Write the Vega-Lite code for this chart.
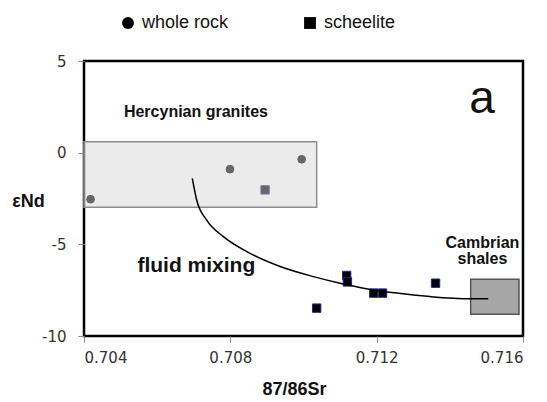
{
  "$schema": "https://vega.github.io/schema/vega-lite/v6.json",
  "width": 439,
  "height": 275,
  "autosize": "none",
  "padding": {"left": 84, "top": 61, "right": 24, "bottom": 66},
  "background": "white",
  "config": {
    "view": {"stroke": "black", "strokeWidth": 2.5},
    "font": "Liberation Sans"
  },
  "datasets": {
    "samples": [
      {"type": "whole rock", "sr": 0.70418, "nd": -2.54},
      {"type": "whole rock", "sr": 0.70799, "nd": -0.90},
      {"type": "whole rock", "sr": 0.70995, "nd": -0.36},
      {"type": "scheelite", "sr": 0.70895, "nd": -2.03},
      {"type": "scheelite", "sr": 0.71036, "nd": -8.48},
      {"type": "scheelite", "sr": 0.71118, "nd": -6.70},
      {"type": "scheelite", "sr": 0.71120, "nd": -7.05},
      {"type": "scheelite", "sr": 0.71192, "nd": -7.66},
      {"type": "scheelite", "sr": 0.71216, "nd": -7.66},
      {"type": "scheelite", "sr": 0.71361, "nd": -7.12}
    ],
    "curve": [
      {"sr": 0.70696, "nd": -1.40},
      {"sr": 0.70708, "nd": -2.58},
      {"sr": 0.70735, "nd": -3.67},
      {"sr": 0.70781, "nd": -4.58},
      {"sr": 0.70845, "nd": -5.40},
      {"sr": 0.70936, "nd": -6.21},
      {"sr": 0.71027, "nd": -6.76},
      {"sr": 0.71100, "nd": -7.12},
      {"sr": 0.71164, "nd": -7.39},
      {"sr": 0.71255, "nd": -7.66},
      {"sr": 0.71346, "nd": -7.85},
      {"sr": 0.71455, "nd": -7.97},
      {"sr": 0.71505, "nd": -7.97}
    ]
  },
  "layer": [
    {
      "mark": {"type": "rule", "color": "black", "strokeWidth": 2},
      "encoding": {"y": {"datum": 0, "type": "quantitative"}}
    },
    {
      "data": {"name": "samples"},
      "mark": {"type": "point", "filled": true, "opacity": 1, "strokeWidth": 1, "strokeOpacity": 1, "fill": "black", "color": "black"},
      "encoding": {
        "x": {
          "field": "sr", "type": "quantitative",
          "scale": {"domain": [0.704, 0.716], "nice": false, "zero": false},
          "axis": {
            "title": "87/86Sr",
            "values": [0.704, 0.708, 0.712, 0.716],
            "format": ".3f",
            "domain": false,
            "grid": false,
            "tickColor": "#888",
            "tickSize": 6,
            "labelFont": "DejaVu Sans",
            "labelFontSize": 15,
            "labelColor": "#333",
            "labelPadding": 8,
            "titleFont": "Liberation Sans",
            "titleFontSize": 18,
            "titleFontWeight": "bold",
            "titleColor": "#111",
            "titleX": 210,
            "titleY": 58,
            "titleBaseline": "alphabetic",
            "titleAlign": "center"
          }
        },
        "y": {
          "field": "nd", "type": "quantitative",
          "scale": {"domain": [-10, 5], "nice": false, "zero": false},
          "axis": {
            "title": "εNd",
            "values": [-10, -5, 0, 5],
            "labelExpr": "replace(datum.label, '\u2212', '-')",
            "domain": false,
            "grid": false,
            "tickColor": "#888",
            "tickSize": 6,
            "labelFont": "DejaVu Sans",
            "labelFontSize": 15,
            "labelColor": "#333",
            "labelPadding": 12,
            "titleFont": "Liberation Sans",
            "titleFontSize": 18,
            "titleFontWeight": "bold",
            "titleColor": "#111",
            "titleAngle": 0,
            "titleX": -56,
            "titleY": 140,
            "titleAlign": "center",
            "titleBaseline": "middle"
          }
        },
        "shape": {
          "field": "type", "type": "nominal",
          "scale": {"domain": ["whole rock", "scheelite"], "range": ["circle", "square"]},
          "legend": {
            "title": null,
            "orient": "none",
            "direction": "horizontal",
            "legendX": 35,
            "legendY": -47,
            "symbolSize": 140,
            "symbolFillColor": "black",
            "symbolStrokeColor": "black",
            "symbolStrokeWidth": 0,
            "labelFont": "Liberation Sans",
            "labelFontSize": 18,
            "labelColor": "#111",
            "labelOffset": 5,
            "columnPadding": 72,
            "encode": {
              "symbols": {
                "update": {
                  "size": {"signal": "datum.value === 'whole rock' ? 140 : 85"}
                }
              }
            }
          }
        },
        "size": {
          "condition": {"test": "datum.type === 'scheelite'", "value": 70},
          "value": 60
        },
        "stroke": {
          "condition": {"test": "datum.type === 'scheelite'", "value": "#23238f"},
          "value": "black"
        }
      }
    },
    {
      "data": {"values": [{"name": "Hercynian granites", "x1": 0.704, "x2": 0.71036, "y1": 0.6, "y2": -2.98}]},
      "mark": {"type": "rect", "fill": "#d5d5d5", "fillOpacity": 0.48, "stroke": "#8c8c8c", "strokeWidth": 1.5},
      "encoding": {
        "x": {"field": "x1", "type": "quantitative"},
        "x2": {"field": "x2"},
        "y": {"field": "y1", "type": "quantitative"},
        "y2": {"field": "y2"}
      }
    },
    {
      "data": {"values": [{"name": "Cambrian shales", "x1": 0.71457, "x2": 0.71589, "y1": -6.90, "y2": -8.81}]},
      "mark": {"type": "rect", "fill": "#a6a6a6", "stroke": "#555", "strokeWidth": 1.5},
      "encoding": {
        "x": {"field": "x1", "type": "quantitative"},
        "x2": {"field": "x2"},
        "y": {"field": "y1", "type": "quantitative"},
        "y2": {"field": "y2"}
      }
    },
    {
      "data": {"name": "curve"},
      "mark": {"type": "line", "color": "black", "strokeWidth": 1.5, "interpolate": "monotone"},
      "encoding": {
        "x": {"field": "sr", "type": "quantitative"},
        "y": {"field": "nd", "type": "quantitative"}
      }
    },
    {
      "data": {"values": [{"label": "Hercynian granites", "sr": 0.70706, "nd": 1.96}]},
      "mark": {"type": "text", "font": "Liberation Sans", "fontWeight": "bold", "fontSize": 16, "align": "center", "baseline": "alphabetic", "color": "#111"},
      "encoding": {
        "x": {"field": "sr", "type": "quantitative"},
        "y": {"field": "nd", "type": "quantitative"},
        "text": {"field": "label"}
      }
    },
    {
      "data": {"values": [{"label": "fluid mixing", "sr": 0.70707, "nd": -6.49}]},
      "mark": {"type": "text", "font": "Liberation Sans", "fontWeight": "bold", "fontSize": 21, "align": "center", "baseline": "alphabetic", "color": "#111"},
      "encoding": {
        "x": {"field": "sr", "type": "quantitative"},
        "y": {"field": "nd", "type": "quantitative"},
        "text": {"field": "label"}
      }
    },
    {
      "data": {"values": [{"label": "Cambrian", "sr": 0.71489, "nd": -5.19}, {"label": "shales", "sr": 0.71489, "nd": -6.07}]},
      "mark": {"type": "text", "font": "Liberation Sans", "fontWeight": "bold", "fontSize": 16, "align": "center", "baseline": "alphabetic", "color": "#111"},
      "encoding": {
        "x": {"field": "sr", "type": "quantitative"},
        "y": {"field": "nd", "type": "quantitative"},
        "text": {"field": "label"}
      }
    },
    {
      "data": {"values": [{"label": "a", "sr": 0.71488, "nd": 2.16}]},
      "mark": {"type": "text", "font": "Liberation Sans", "fontSize": 46, "align": "center", "baseline": "alphabetic", "color": "#111"},
      "encoding": {
        "x": {"field": "sr", "type": "quantitative"},
        "y": {"field": "nd", "type": "quantitative"},
        "text": {"field": "label"}
      }
    }
  ]
}
